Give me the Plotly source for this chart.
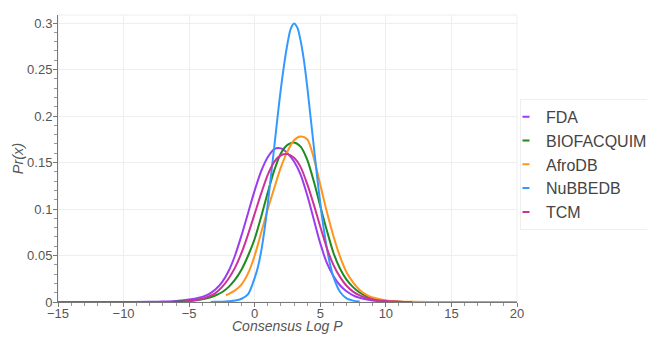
import plotly.graph_objects as go

# ---- data ----
series_names = ["FDA", "BIOFACQUIM", "AfroDB", "NuBBEDB", "TCM"]
series_colors = ["#9a3cf0", "#1f8a1f", "#ff951f", "#3399ff", "#cc3399"]

fda_x = [-15, -10, -8, -7, -6, -5, -4, -3.5, -3, -2.5, -2, -1.5, -1, -0.5, 0, 0.5, 1, 1.5, 2, 2.5,
         3, 3.5, 4, 4.5, 5, 5.5, 6, 6.5, 7, 7.5, 8, 9, 10, 11, 12, 20]
fda_y = [0, 0, 0.0002, 0.0005, 0.0012, 0.0027, 0.0055, 0.0085, 0.0134, 0.021, 0.033, 0.05, 0.072, 0.096, 0.12,
         0.141, 0.156, 0.1645, 0.1652, 0.16, 0.151, 0.137, 0.115, 0.089, 0.063, 0.042, 0.028, 0.018, 0.0115,
         0.0072, 0.0045, 0.0016, 0.0005, 0.0001, 0, 0]

bio_x = [-6.3, -6, -5, -4, -3.5, -3, -2.5, -2, -1.5, -1, -0.5, 0, 0.5, 1, 1.5, 2, 2.5, 3, 3.5, 4,
         4.5, 5, 5.5, 6, 6.5, 7, 7.5, 8, 8.5, 9, 10, 11, 12]
bio_y = [0, 0.0003, 0.0012, 0.003, 0.0045, 0.007, 0.0105, 0.016, 0.024, 0.035, 0.05, 0.068, 0.092, 0.118,
         0.142, 0.16, 0.169, 0.1715, 0.167, 0.153, 0.13, 0.103, 0.077, 0.053, 0.036, 0.024, 0.016, 0.0102,
         0.0063, 0.0038, 0.0013, 0.0004, 0]

afro_x = [-2.2, -2, -1.5, -1, -0.5, 0, 0.5, 1, 1.5, 2, 2.5, 3, 3.5, 4, 4.5, 5, 5.5, 6, 6.5, 7,
          7.5, 8, 8.5, 9, 10, 11, 12, 14, 20]
afro_y = [0.0073, 0.0085, 0.0125, 0.019, 0.031, 0.05, 0.075, 0.1, 0.123, 0.145, 0.162, 0.174, 0.178, 0.175,
          0.155, 0.126, 0.097, 0.071, 0.049, 0.032, 0.021, 0.013, 0.008, 0.0048, 0.0017, 0.0006, 0.0002, 0, 0]

nubbe_x = [-3.35, -3, -2.5, -2, -1.5, -1, -0.5, 0, 0.25, 0.5, 0.75, 1, 1.25, 1.5, 1.75, 2, 2.25, 2.5, 2.75, 3,
           3.25, 3.5, 3.75, 4, 4.25, 4.5, 4.75, 5, 5.25, 5.5, 5.75, 6, 6.5, 7, 7.5, 8]
nubbe_y = [0, 0.0002, 0.0004, 0.0008, 0.0015, 0.0035, 0.0085, 0.026, 0.038, 0.055, 0.078, 0.106, 0.137, 0.168,
           0.2, 0.23, 0.256, 0.278, 0.294, 0.2995, 0.295, 0.281, 0.26, 0.232, 0.2, 0.168, 0.136, 0.106, 0.08,
           0.058, 0.04, 0.027, 0.011, 0.004, 0.0015, 0.0005]

tcm_x = [-5.5, -5, -4.5, -4, -3.5, -3, -2.5, -2, -1.5, -1, -0.5, 0, 0.5, 1, 1.5, 2, 2.5, 3, 3.5, 4,
         4.5, 5, 5.5, 6, 6.5, 7, 7.5, 8, 8.5, 9, 10, 11, 12]
tcm_y = [0.0004, 0.001, 0.002, 0.0035, 0.006, 0.0095, 0.016, 0.025, 0.037, 0.053, 0.073, 0.095, 0.117, 0.137,
         0.151, 0.1578, 0.159, 0.155, 0.145, 0.127, 0.105, 0.081, 0.058, 0.04, 0.027, 0.0175, 0.0112, 0.0072,
         0.0045, 0.0028, 0.001, 0.0003, 0]

xs = [fda_x, bio_x, afro_x, nubbe_x, tcm_x]
ys = [fda_y, bio_y, afro_y, nubbe_y, tcm_y]

x_range = [-15, 20]
y_range = [0, 0.3086]
x_title = "Consensus Log P"
y_title = "Pr(x)"

fig = go.Figure()
for name, color, x, y in zip(series_names, series_colors, xs, ys):
    fig.add_trace(go.Scatter(
        x=x, y=y, mode="lines", name=name, legendgroup=name, showlegend=False,
        line=dict(color=color, width=2, shape="spline", smoothing=0.8),
    ))
# legend entries (short dash symbols)
for name, color in zip(series_names, series_colors):
    fig.add_trace(go.Scatter(
        x=[None], y=[None], mode="markers", name=name, legendgroup=name, showlegend=True,
        marker=dict(symbol="line-ew", size=5, color=color, line=dict(width=2, color=color)),
        hoverinfo="skip",
    ))

axis_font = dict(family="Arial", size=13, color="#555")
title_font = dict(family="Arial", size=14.5, color="#555", style="italic")
fig.update_layout(
    width=647, height=337,
    margin=dict(l=58, r=130, t=15, b=34.5, autoexpand=False),
    paper_bgcolor="white", plot_bgcolor="white",
    font=dict(family="Arial", color="#444"),
    xaxis=dict(
        range=x_range, dtick=5, tick0=0, showgrid=True, gridcolor="#eeeeee", gridwidth=1,
        zeroline=False, showline=True, linecolor="#777", linewidth=1,
        ticks="outside", ticklen=4, tickcolor="#777", tickfont=axis_font, ticklabelstandoff=-5,
        minor=dict(dtick=1, ticks="outside", ticklen=3, tickcolor="#999", showgrid=False),
    ),
    yaxis=dict(
        range=y_range, dtick=0.05, tick0=0, showgrid=True, gridcolor="#eeeeee", gridwidth=1,
        zeroline=False, showline=True, linecolor="#777", linewidth=1,
        ticks="outside", ticklen=4, tickcolor="#777", tickfont=axis_font, ticklabelstandoff=-2,
        minor=dict(dtick=0.01, ticks="outside", ticklen=3, tickcolor="#999", showgrid=False),
        title=dict(text=y_title, font=title_font, standoff=0),
    ),
    legend=dict(
        x=1.0065, xanchor="left", y=0.708, yanchor="top",
        bgcolor="white", bordercolor="#eeeeee", borderwidth=1,
        font=dict(family="Arial", size=16, color="#444"),
        indentation=-15, tracegroupgap=0, traceorder="normal",
    ),
    shapes=[dict(type="rect", xref="paper", yref="paper", x0=0, x1=1, y0=0, y1=1,
                 line=dict(color="#eeeeee", width=1), layer="below")],
    annotations=[dict(text=x_title, xref="paper", yref="paper", x=0.5, y=-0.12,
                      xanchor="center", yanchor="bottom", showarrow=False,
                      font=dict(family="Arial", size=14, color="#555", style="italic"))],
)

fig.write_html("out.html")
